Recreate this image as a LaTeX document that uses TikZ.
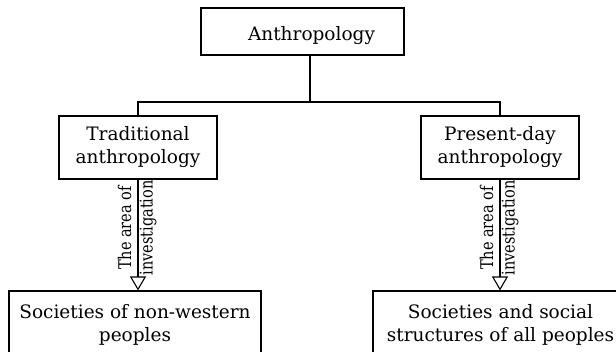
\documentclass[tikz,border=0pt]{standalone}
\usepackage{fontspec}
\setmainfont{DejaVu Serif}
\usetikzlibrary{arrows.meta}
\begin{document}
\begin{tikzpicture}[x=1pt,y=-1pt,
  box/.style={draw=black, line width=1.1pt, rectangle, inner sep=0pt, align=center, font=\fontsize{18.5}{23}\selectfont},
  link/.style={draw=black, line width=1.1pt},
  area/.style={draw=black, line width=1.1pt, -{Triangle[open,width=16pt,length=14pt]}},
  lbl/.style={rotate=90, inner sep=0pt, font=\fontsize{17.5}{21.5}\selectfont}]
\fill[white] (0,0) rectangle (616,352);
\useasboundingbox (0,0) rectangle (616,352);
\clip (0,0) rectangle (616,352);
\node[box, minimum width=203pt, minimum height=47pt, text height=19pt, text depth=0pt] (anth) at (302.5,31.5) {\hspace*{18pt}Anthropology};
\node[box, minimum width=158pt, minimum height=63pt] (trad) at (138,147.5) {Traditional\\anthropology};
\node[box, minimum width=158pt, minimum height=63pt] (pres) at (500,147.5) {Present-day\\anthropology};
\node[box, minimum width=252pt, minimum height=67pt] (soc1) at (135,324.5) {Societies of non-western\\peoples};
\node[box, minimum width=255pt, minimum height=67pt] (soc2) at (500.5,324.5) {Societies and social\\structures of all peoples};
\coordinate (j) at (310,102);
\draw[link] (anth.south -| j) -- (j);
\draw[link] (trad.north) |- (j) -| (pres.north);
\draw[area] (trad.south) -- (trad.south |- soc1.north);
\draw[area] (pres.south) -- (pres.south |- soc2.north);
\node[lbl] (lab1) at (137.6,228) {\scalebox{0.83}[1]{\begin{tabular}{@{}c@{}}The area of\\investigation\end{tabular}}};
\node[lbl] (lab2) at (499.6,228) {\scalebox{0.83}[1]{\begin{tabular}{@{}c@{}}The area of\\investigation\end{tabular}}};
\end{tikzpicture}
\end{document}
